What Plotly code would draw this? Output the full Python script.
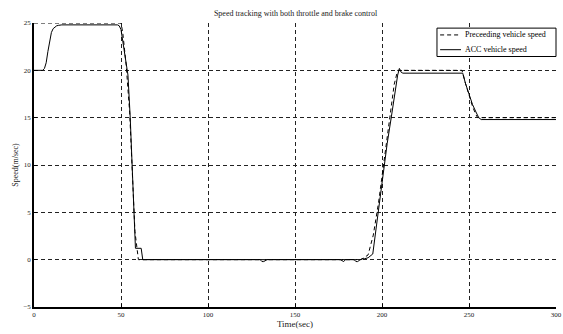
import plotly.graph_objects as go

# ACC vehicle speed (solid)
acc_t = [0, 5, 6, 7, 8, 9, 10, 11, 12, 13, 14, 16, 48, 49, 50, 51, 52, 53, 54, 55.3, 56.4, 57.4, 58.3,
         61.6, 62.5, 130, 131, 132, 133.5, 134, 176, 177, 178, 179, 184, 185, 186, 187.5, 188.5, 190,
         192, 194.7, 196, 198, 200, 201.4, 203, 205.3, 207, 209, 210, 211, 212, 245, 246.4, 248, 250,
         252, 254, 255.6, 257, 300]
acc_v = [20, 20, 20.2, 20.8, 22.0, 23.2, 24.0, 24.4, 24.6, 24.7, 24.75, 24.8, 24.8, 24.7, 24.3, 23.2,
         21.8, 20.8, 19.5, 15.0, 10.0, 5.0, 1.2,
         1.2, 0, 0, -0.2, -0.2, -0.1, 0, 0, -0.1, -0.2, 0, 0, -0.2, -0.2, 0, 0.1, 0.1,
         0.2, 0.6, 2.5, 5.0, 8.0, 10.0, 12.3, 15.0, 17.2, 19.5, 20.2, 19.8, 19.7, 19.7, 19.7, 18.6, 17.4,
         16.4, 15.6, 15.0, 14.8, 14.8]

# Preceding vehicle speed (dashed)
pre_t = [0, 50, 51, 53, 55, 57, 58, 60, 188, 192, 195, 198, 201, 204, 207, 209, 246, 248, 250, 252,
         254, 255, 300]
pre_v = [25, 25, 24.0, 20.5, 15.5, 8.0, 3.0, 0, 0, 0.5, 2.6, 6.0, 10.2, 14.6, 18.5, 20.0, 20.0, 18.6,
         17.3, 16.2, 15.3, 15.0, 15.0]

x_ticks = [0, 50, 100, 150, 200, 250, 300]
y_ticks = [-5, 0, 5, 10, 15, 20, 25]
series_names = ["Preceeding vehicle speed", "ACC vehicle speed"]
series_dash = ["4px,3px", "solid"]

fig = go.Figure()
fig.add_trace(go.Scatter(x=pre_t, y=pre_v, mode="lines", name=series_names[0],
                         line=dict(color="black", width=1, dash=series_dash[0])))
fig.add_trace(go.Scatter(x=acc_t, y=acc_v, mode="lines", name=series_names[1],
                         line=dict(color="black", width=1, dash=series_dash[1])))

axis_common = dict(showgrid=True, gridcolor="#222", gridwidth=1, griddash="4px,3px",
                   showline=True, linecolor="black", linewidth=1.5, zeroline=False,
                   ticks="inside", ticklen=3, tickcolor="black", automargin=False,
                   tickfont=dict(family="Liberation Serif", size=7, color="#222"))

# compact MATLAB-style legend drawn in paper coordinates
leg_x0, leg_x1, leg_y0, leg_y1 = 0.772, 1.0, 0.882, 0.982
row_y = [0.958, 0.906]
fig.add_shape(type="rect", xref="paper", yref="paper", x0=leg_x0, x1=leg_x1, y0=leg_y0, y1=leg_y1,
              line=dict(color="black", width=1), fillcolor="white", layer="above")
for name, dash, ry in zip(series_names, series_dash, row_y):
    fig.add_shape(type="line", xref="paper", yref="paper", x0=leg_x0 + 0.006, x1=leg_x0 + 0.046,
                  y0=ry, y1=ry, line=dict(color="black", width=1, dash=dash), layer="above")
    fig.add_annotation(xref="paper", yref="paper", x=leg_x0 + 0.05, y=ry, text=name,
                       xanchor="left", yanchor="middle", showarrow=False,
                       font=dict(family="Liberation Serif", size=8, color="black"))

fig.update_layout(
    width=563, height=334,
    margin=dict(l=34, r=7, t=23, b=27),
    paper_bgcolor="white", plot_bgcolor="white",
    showlegend=False,
    title=dict(text="Speed tracking with both throttle and brake control",
               font=dict(family="Liberation Serif", size=8, color="#222"),
               x=0.525, xanchor="center", y=0.96, yanchor="middle", automargin=False),
    xaxis=dict(range=[0, 300], tickvals=x_ticks, **axis_common,
               title=dict(text="Time(sec)", font=dict(family="Liberation Serif", size=9, color="#222"),
                          standoff=2)),
    yaxis=dict(range=[-5, 25], tickvals=y_ticks, **axis_common,
               title=dict(text="Speed(m/sec)", font=dict(family="Liberation Serif", size=8, color="#222"),
                          standoff=4)),
)

fig.write_html("out.html", config={"displayModeBar": False},
               post_script="document.body.style.margin='0px';document.body.style.overflow='hidden';")
